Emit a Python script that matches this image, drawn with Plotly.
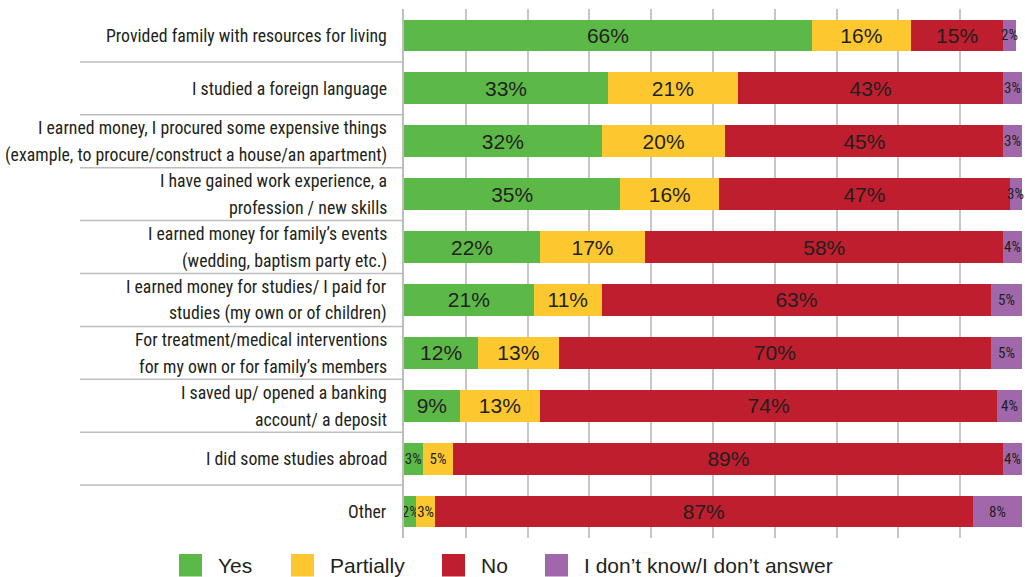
import plotly.graph_objects as go

# Survey items (line breaks mark where each label wraps)
categories = [
    "Provided family with resources for living",
    "I studied a foreign language",
    "I earned money, I procured some expensive things\n(example, to procure/construct a house/an apartment)",
    "I have gained work experience, a\nprofession / new skills",
    "I earned money for family’s events\n(wedding, baptism party etc.)",
    "I earned money for studies/ I paid for\nstudies (my own or of children)",
    "For treatment/medical interventions\nfor my own or for family’s members",
    "I saved up/ opened a banking\naccount/ a deposit",
    "I did some studies abroad",
    "Other",
]

series_names = ["Yes", "Partially", "No", "I don’t know/I don’t answer"]
yes = [66, 33, 32, 35, 22, 21, 12, 9, 3, 2]
partially = [16, 21, 20, 16, 17, 11, 13, 13, 5, 3]
no = [15, 43, 45, 47, 58, 63, 70, 74, 89, 87]
dont_know = [2, 3, 3, 3, 4, 5, 5, 4, 4, 8]
series_values = [yes, partially, no, dont_know]

colors = ["#5DB947", "#FDC82F", "#BE1E2D", "#A167AB"]
text_color = "#231F20"
grid_color = "#C6C6C6"
narrow_font = "Roboto Condensed"
wide_font = "Liberation Sans"

W, H = 1025, 577
L, R, T, B = 404, 3, 9, 39
plot_w = W - L - R
plot_h = H - T - B


def px_to_xpaper(px):
    return (px - L) / plot_w


def px_to_ypaper(py):
    return (H - B - py) / plot_h


y_keys = [c.replace("\n", " ") for c in categories]

fig = go.Figure()
annotations = []
last = len(series_names) - 1
for idx, (name, vals, col) in enumerate(zip(series_names, series_values, colors)):
    small = [v <= 8 for v in vals]
    fig.add_trace(go.Bar(
        y=y_keys,
        x=vals,
        name=name,
        orientation="h",
        marker=dict(color=col, line=dict(width=0)),
        text=[f"{v}%" for v in vals] if idx != last else None,
        textposition="inside" if idx != last else "none",
        insidetextanchor="middle",
        constraintext="none",
        textangle=0,
        textfont=dict(
            color=text_color,
            size=[15 if s else 21 for s in small],
            family=[narrow_font if s else wide_font for s in small],
        ),
        hoverinfo="skip",
        showlegend=False,
    ))

# Labels of the last segment, centred on the part of the bar inside the 0-100 axis
for key, a, b, c, d in zip(y_keys, yes, partially, no, dont_know):
    start = a + b + c
    end = min(start + d, 100)
    annotations.append(dict(
        x=(start + end) / 2, xref="x", y=key, yref="y",
        text=f"{d}%", showarrow=False, xanchor="center", yanchor="middle",
        font=dict(family=narrow_font, size=15, color=text_color),
    ))

# Category labels, one annotation per wrapped line
for key, label in zip(y_keys, categories):
    lines = label.split("\n")
    n = len(lines)
    for i, line in enumerate(lines):
        annotations.append(dict(
            x=px_to_xpaper(389), xref="paper", xanchor="right",
            y=key, yref="y", yanchor="middle",
            yshift=(n - 1) * 13.5 - i * 27,
            text=line, showarrow=False,
            font=dict(family=narrow_font, size=17.8, color=text_color),
        ))

shapes = []
# Separators between category labels
for k in range(1, len(categories)):
    shapes.append(dict(
        type="line", xref="paper", yref="paper",
        x0=px_to_xpaper(80), x1=0, y0=k / len(categories), y1=k / len(categories),
        line=dict(color="#BDBDBD", width=1.5),
    ))

# Legend built from the series names and colours
legend_swatch_x = [179, 291, 442, 545]
for name, col, sx in zip(series_names, colors, legend_swatch_x):
    shapes.append(dict(
        type="rect", xref="paper", yref="paper",
        x0=px_to_xpaper(sx), x1=px_to_xpaper(sx + 23),
        y0=px_to_ypaper(576.5), y1=px_to_ypaper(554),
        fillcolor=col, line=dict(width=0),
    ))
    annotations.append(dict(
        x=px_to_xpaper(sx + 37), xref="paper", xanchor="left",
        y=px_to_ypaper(565), yref="paper", yanchor="middle",
        text=name, showarrow=False,
        font=dict(family=wide_font, size=21, color=text_color),
    ))

fig.update_layout(
    barmode="stack",
    bargap=0.4,
    width=W, height=H,
    margin=dict(l=L, r=R, t=T, b=B, pad=0),
    paper_bgcolor="white",
    plot_bgcolor="white",
    annotations=annotations,
    shapes=shapes,
    xaxis=dict(
        range=[0, 100], dtick=10, showgrid=True, gridcolor=grid_color, gridwidth=1.5,
        showticklabels=False, zeroline=False, showline=False, fixedrange=True,
    ),
    yaxis=dict(
        categoryorder="array", categoryarray=y_keys, autorange="reversed",
        showticklabels=False, showgrid=False, zeroline=False,
        showline=True, linecolor="#BDBDBD", linewidth=1.5, fixedrange=True,
    ),
)

fig.write_html("out.html")
